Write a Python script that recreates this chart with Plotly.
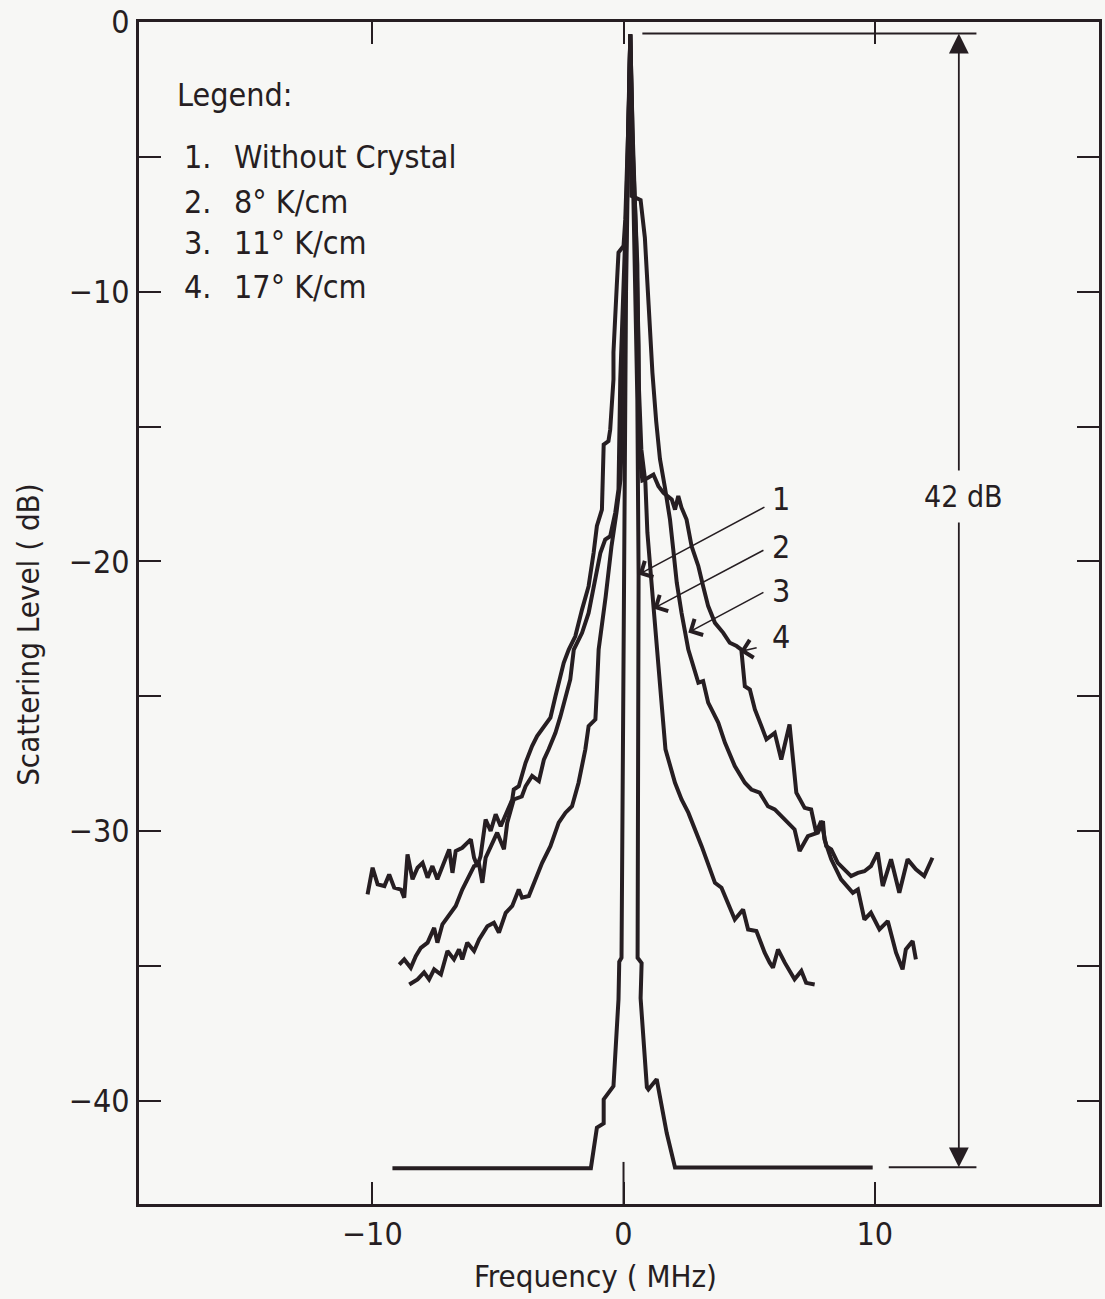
import plotly.graph_objects as go

# Scattered-light spectra around the laser line, four crystal conditions
freq_1 = [-9.2, -1.3, -1.06, -0.79, -0.79, -0.53, -0.40, -0.20, -0.17, -0.08, -0.02, 0.02, 0.10, 0.20, 0.27,
          0.34, 0.45, 0.55, 0.60, 0.58, 0.56, 0.72, 0.68, 0.93, 0.99, 1.32, 1.72, 2.05, 9.92]
level_1 = [-42.5, -42.5, -41.0, -40.84, -39.95, -39.64, -39.46, -36.24, -34.85, -34.7, -25.0, -17.0, -10.0, -4.0, -0.46,
           -4.0, -8.5, -14.0, -20.5, -28.8, -34.7, -34.9, -36.2, -39.5, -39.58, -39.2, -41.2, -42.48, -42.48]

freq_2 = [-8.53, -8.20, -7.94, -7.74, -7.54, -7.27, -7.01, -6.75, -6.55, -6.42, -6.22, -5.95, -5.75, -5.42,
          -5.16, -4.96, -4.69, -4.43, -4.17, -4.04, -3.77, -3.50, -3.24, -2.91, -2.58, -2.31, -2.05, -1.79,
          -1.52, -1.39, -1.12, -1.06, -0.99, -0.71, -0.48, -0.28, -0.12, 0.0, 0.08, 0.18, 0.27,
          0.38, 0.55, 0.60, 0.71, 0.87, 0.95, 1.07, 1.19, 1.31, 1.50, 1.67, 2.05, 2.31, 2.58, 3.11, 3.64, 3.90,
          4.17, 4.43, 4.76, 4.96, 5.29, 5.62, 5.82, 5.95, 6.15, 6.42, 6.81, 7.08, 7.27, 7.61]
level_2 = [-35.69, -35.50, -35.24, -35.50, -35.13, -35.32, -34.45, -34.76, -34.39, -34.76, -34.14, -34.45, -34.02, -33.53,
           -33.40, -33.77, -33.03, -32.78, -32.17, -32.47, -32.41, -31.79, -31.18, -30.56, -29.69, -29.32, -29.08, -28.21,
           -26.97, -26.11, -25.86, -24.75, -23.27, -21.30, -19.45, -18.19, -16.96, -13.25, -9.0, -5.0, -0.46,
           -5.0, -9.0, -13.25, -15.85, -17.07, -18.93, -20.30, -21.75, -23.27, -25.10, -26.97, -28.21, -28.83, -29.32, -30.56, -31.92, -32.10,
           -32.66, -33.28, -32.91, -33.65, -33.71, -34.51, -34.88, -35.07, -34.39, -34.88, -35.50, -35.19, -35.63, -35.69]

freq_3 = [-8.93, -8.73, -8.47, -8.27, -8.07, -7.80, -7.54, -7.41, -7.21, -6.94, -6.68, -6.42, -6.22, -5.95,
          -5.75, -5.62, -5.49, -5.23, -5.03, -4.76, -4.63, -4.37, -4.05, -3.90, -3.64, -3.37, -3.17, -2.98,
          -2.71, -2.51, -2.31, -2.12, -1.98, -1.65, -1.39, -1.12, -0.92, -0.73, -0.53, -0.33, -0.20, -0.13,
          -0.03, 0.12, 0.27, 0.32, 0.68, 0.85, 1.00, 1.15, 1.30, 1.45, 1.65, 1.85, 1.98, 2.12, 2.31, 2.45,
          2.58, 2.98, 3.17, 3.37, 3.77, 4.04, 4.43, 4.83, 5.09, 5.42, 5.75, 6.02, 6.42, 6.81, 7.01, 7.34,
          7.74, 7.94, 8.00, 8.27, 8.66, 9.13, 9.33, 9.59, 9.85, 10.19, 10.52, 10.85, 11.11, 11.24, 11.51, 11.64]
level_3 = [-34.95, -34.76, -35.07, -34.64, -34.33, -34.14, -33.59, -34.14, -33.46, -33.09, -32.78, -32.17, -31.79, -31.30,
           -31.24, -31.92, -30.99, -30.43, -30.06, -30.68, -29.69, -28.83, -28.72, -28.34, -27.96, -28.15, -27.35, -26.97,
           -26.36, -25.74, -25.00, -24.38, -23.27, -22.65, -21.91, -20.67, -19.68, -19.19, -19.07, -18.20, -17.33, -13.25,
           -10.29, -6.58, -0.46, -6.45, -6.60, -8.00, -10.50, -13.00, -14.80, -16.20, -17.27, -18.45, -19.56, -20.79, -21.91, -22.63,
           -23.27, -24.50, -24.44, -25.24, -25.98, -26.73, -27.59, -28.21, -28.46, -28.58, -29.08, -29.20, -29.57, -29.94, -30.74, -30.19,
           -30.06, -29.63, -30.31, -31.05, -31.79, -32.29, -32.17, -33.28, -33.03, -33.65, -33.34, -34.51, -35.13, -34.39, -34.08, -34.76]

freq_4 = [-10.19, -9.99, -9.79, -9.52, -9.33, -9.13, -8.86, -8.73, -8.60, -8.40, -8.20, -8.00, -7.80, -7.61,
          -7.41, -7.14, -6.94, -6.81, -6.68, -6.42, -6.08, -5.95, -5.82, -5.69, -5.49, -5.29, -5.09, -4.89,
          -4.69, -4.43, -4.37, -4.17, -3.90, -3.64, -3.44, -3.17, -2.91, -2.71, -2.58, -2.38, -2.18, -1.92,
          -1.65, -1.39, -1.19, -1.06, -0.86, -0.79, -0.60, -0.53, -0.40, -0.40, -0.27, -0.20, 0.0, 0.07,
          0.20, 0.27, 0.36, 0.50, 0.60, 0.63, 0.75, 0.86, 1.19, 1.26, 1.39, 1.59, 1.92, 2.05, 2.18, 2.31, 2.51,
          2.71, 2.98, 3.17, 3.37, 3.64, 3.97, 4.23, 4.50, 4.69, 4.83, 5.03, 5.23, 5.49, 5.69, 6.02, 6.28,
          6.61, 6.88, 7.21, 7.47, 7.67, 7.87, 8.07, 8.27, 8.53, 9.06, 9.33, 9.59, 9.85, 10.12, 10.32, 10.65,
          10.98, 11.31, 11.64, 11.97, 12.30]
level_4 = [-32.35, -31.36, -31.98, -32.04, -31.61, -32.10, -32.17, -32.47, -30.87, -31.79, -31.36, -31.18, -31.73, -31.30,
           -31.79, -31.12, -30.68, -31.55, -30.74, -30.62, -30.31, -30.99, -31.30, -30.93, -29.57, -30.00, -29.38, -29.82,
           -29.38, -28.83, -28.46, -28.34, -27.47, -26.85, -26.48, -26.11, -25.80, -25.00, -24.50, -23.76, -23.27, -22.78,
           -21.78, -20.92, -19.68, -18.69, -18.08, -15.67, -15.54, -15.11, -13.25, -12.25, -9.80, -8.55, -8.31, -7.32,
           -3.62, -0.46, -4.0, -8.0, -12.0, -16.0, -17.0, -16.96, -16.78, -16.96, -17.21, -17.46, -17.70, -18.08, -17.58, -18.01, -18.45,
           -19.44, -20.18, -20.92, -21.66, -22.28, -22.65, -23.02, -23.14, -23.27, -24.63, -24.75, -25.49, -26.11, -26.60, -26.36, -27.35,
           -26.05, -28.58, -29.14, -29.20, -30.06, -29.63, -30.56, -30.68, -31.18, -31.67, -31.55, -31.49, -31.30, -30.80, -32.04, -31.05,
           -32.29, -31.05, -31.42, -31.67, -30.99]

series = [("Without Crystal", freq_1, level_1),
          ("8° K/cm", freq_2, level_2),
          ("11° K/cm", freq_3, level_3),
          ("17° K/cm", freq_4, level_4)]

ink = "rgb(38,30,34)"
paper = "rgb(247,247,245)"
font_family = "Liberation Sans Narrow, DejaVu Sans Condensed, Roboto, sans-serif"

fig = go.Figure()
for name, xs, ys in series:
    fig.add_trace(go.Scatter(x=xs, y=ys, mode="lines", name=name,
                             line=dict(color=ink, width=4), showlegend=False))

x_ticks = [-10, 0, 10]
x_tick_text = ["\u221210", "0", "10"]
y_ticks = [0, -5, -10, -15, -20, -25, -30, -35, -40]
y_tick_text = ["0", "", "\u221210", "", "\u221220", "", "\u221230", "", "\u221240"]

fig.update_layout(
    width=1105, height=1299,
    margin=dict(l=139, r=3, t=22, b=95),
    paper_bgcolor=paper, plot_bgcolor=paper,
    font=dict(family=font_family, color=ink, size=31),
    xaxis=dict(range=[-19.29, 18.93], showgrid=False, zeroline=False,
               showline=True, linewidth=3, linecolor=ink, mirror="ticks",
               ticks="inside", ticklen=22, tickwidth=2, tickcolor=ink,
               tickvals=x_ticks, ticktext=x_tick_text, tickfont=dict(size=32)),
    yaxis=dict(range=[-43.83, 0], showgrid=False, zeroline=False,
               showline=True, linewidth=3, linecolor=ink, mirror="ticks",
               ticks="inside", ticklen=22, tickwidth=2, tickcolor=ink,
               tickvals=y_ticks, ticktext=y_tick_text, tickfont=dict(size=32)),
)

# longer centre tick on the frequency axis
fig.add_shape(type="line", x0=0, x1=0, y0=-43.83, y1=-42.27, xref="x", yref="y",
              line=dict(color=ink, width=2))

# 42 dB span marker
span_x = 13.35
span_top = -0.43
span_bottom = -42.47
fig.add_shape(type="line", x0=0.75, x1=14.05, y0=span_top, y1=span_top, line=dict(color=ink, width=2))
fig.add_shape(type="line", x0=10.56, x1=14.05, y0=span_bottom, y1=span_bottom, line=dict(color=ink, width=2))
for tip in (span_top, span_bottom):
    fig.add_annotation(x=span_x, y=tip, ax=span_x, ay=-17.7, xref="x", yref="y", axref="x", ayref="y",
                       text="", showarrow=True, arrowhead=2, arrowsize=2.2, arrowwidth=1.8, arrowcolor=ink)
fig.add_annotation(x=span_x + 0.2, y=-17.6, xref="x", yref="y", text="42 dB", showarrow=False,
                   bgcolor=paper, font=dict(size=30), borderpad=8)

# legend block
fig.add_annotation(x=-17.84, y=-2.69, xref="x", yref="y", text="Legend:", showarrow=False,
                   xanchor="left", font=dict(size=32))
legend_y = [-4.99, -6.66, -8.18, -9.84]
for i, (name, _, _) in enumerate(series):
    fig.add_annotation(x=-17.56, y=legend_y[i], xref="x", yref="y", text=f"{i + 1}.", showarrow=False,
                       xanchor="left", font=dict(size=32))
    fig.add_annotation(x=-15.6, y=legend_y[i], xref="x", yref="y", text=name, showarrow=False,
                       xanchor="left", font=dict(size=32))

# curve call-outs
label_y = [-17.7, -19.45, -21.1, -22.8]
tips = [(0.60, -20.49), (1.19, -21.75), (2.58, -22.64), (4.64, -23.34)]
tails = [(5.67, -17.96), (5.63, -19.56), (5.63, -21.12), (5.36, -23.19)]
for i in range(4):
    fig.add_annotation(x=6.25, y=label_y[i], xref="x", yref="y", text=str(i + 1), showarrow=False,
                       font=dict(size=32))
    fig.add_annotation(x=tips[i][0], y=tips[i][1], ax=tails[i][0], ay=tails[i][1],
                       xref="x", yref="y", axref="x", ayref="y", text="", showarrow=True,
                       arrowhead=4, arrowsize=2.2, arrowwidth=1.6, arrowcolor=ink)

# axis titles
fig.add_annotation(x=-1.1, y=-0.0613, xref="x", yref="paper", yanchor="middle", text="Frequency ( MHz)",
                   showarrow=False, font=dict(size=31))
fig.add_annotation(x=-0.1163, y=0.4818, xref="paper", yref="paper", xanchor="center", yanchor="middle",
                   text="Scattering Level ( dB)", showarrow=False, textangle=-90, font=dict(size=31))

fig.write_html("out.html")
